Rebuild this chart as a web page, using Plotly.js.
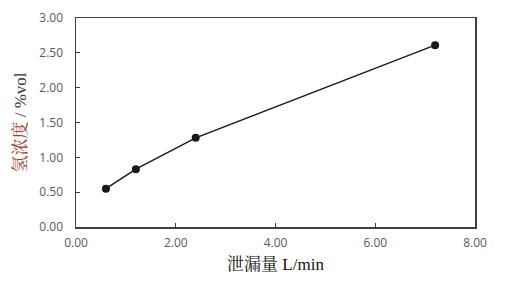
<!DOCTYPE html>
<html><head><meta charset="utf-8">
<script src="https://cdn.plot.ly/plotly-3.0.1.min.js"></script>
<style>html,body{margin:0;padding:0;background:#fff}#c{width:513px;height:282px}</style>
</head><body><div id="c"></div>
<script>
const leakRate = [0.6, 1.2, 2.4, 7.2];
const h2Conc = [0.55, 0.83, 1.28, 2.61];
const xTicks = [0, 2, 4, 6, 8];
const yTicks = [0, 0.5, 1, 1.5, 2, 2.5, 3];

const tickFont = {family: '"Open Sans", "Liberation Sans", sans-serif', size: 12, color: '#595959'};
Plotly.newPlot('c', [{
  x: leakRate, y: h2Conc, type: 'scatter', mode: 'lines+markers',
  line: {color: '#1a1a1a', width: 1.5},
  marker: {color: '#1a1a1a', size: 8}
}], {
  width: 513, height: 282,
  margin: {l: 76, r: 38, t: 18, b: 55},
  paper_bgcolor: '#fff', plot_bgcolor: '#fff',
  showlegend: false,
  xaxis: {
    range: [0, 8], tickvals: xTicks, ticktext: xTicks.map(v => v.toFixed(2)),
    ticks: 'inside', ticklen: 4, tickcolor: '#404040', tickwidth: 1,
    showline: true, mirror: true, linecolor: '#404040', linewidth: 1.5,
    showgrid: false, zeroline: false, tickfont: tickFont, ticklabelstandoff: 4,
    title: {text: '泄漏量 L/min', standoff: 8,
      font: {family: '"Liberation Serif", "Noto Serif CJK SC", "Noto Sans CJK SC", serif', size: 17, color: '#111'}}
  },
  yaxis: {
    range: [0, 3], tickvals: yTicks, ticktext: yTicks.map(v => v.toFixed(2)),
    ticks: 'inside', ticklen: 4, tickcolor: '#404040', tickwidth: 1,
    showline: true, mirror: true, linecolor: '#404040', linewidth: 1.5,
    showgrid: false, zeroline: false, tickfont: tickFont, ticklabelstandoff: 9,
    title: {text: '<span style="color:#9a3b2b">氢浓度</span> / %vol', standoff: 8,
      font: {family: '"Liberation Serif", "Noto Serif CJK SC", "Noto Sans CJK SC", serif', size: 17, color: '#333'}}
  }
}, {displayModeBar: false, staticPlot: true});
</script></body></html>
